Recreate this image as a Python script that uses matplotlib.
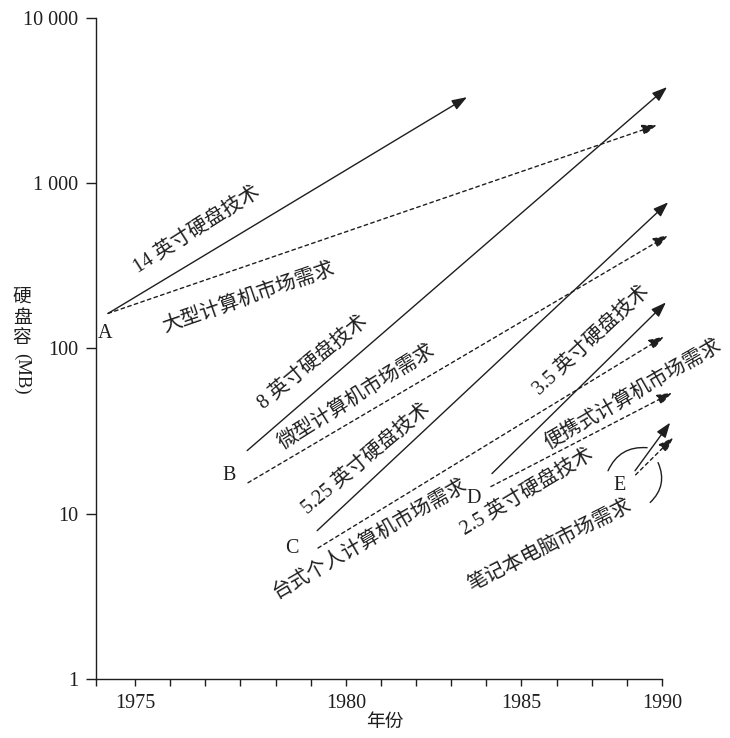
import numpy as np
import matplotlib
matplotlib.use("Agg")
import matplotlib.pyplot as plt

plt.rcParams['font.family'] = ['Liberation Serif', 'Noto Sans CJK SC']

# ---------------- data ----------------
group_letters = ["A", "B", "C", "D", "E"]
letter_year = [1974.29, 1977.23, 1978.72, 1983.65, 1988.5]
letter_mb = [123, 17.0, 6.2, 12.3, 14.8]

# technology (solid) trajectories
tech_labels = ["14 英寸硬盘技术", "8 英寸硬盘技术", "5.25 英寸硬盘技术", "3.5 英寸硬盘技术", "2.5 英寸硬盘技术"]
tech_start_year = [1974.36, 1977.66, 1979.32, 1984.16, 1989.04]
tech_start_mb = [163, 24.1, 7.9, 17.5, 18.2]
tech_end_year = [1983.45, 1990.18, 1990.22, 1990.14, 1990.29]
tech_end_mb = [3320, 3820, 767, 190, 35.6]
tech_label_year = [1976.47, 1979.22, 1980.60, 1987.51, 1985.2]
tech_label_mb = [519, 82, 21.5, 112, 13.4]
tech_label_angle = [32.5, 39.5, 40, 43, 31]

# market demand (dashed) trajectories
demand_labels = ["大型计算机市场需求", "微型计算机市场需求", "台式个人计算机市场需求", "便携式计算机市场需求", "笔记本电脑市场需求"]
demand_start_year = [1974.36, 1977.68, 1979.34, 1984.13, 1989.06]
demand_start_mb = [163, 15.4, 6.2, 14.6, 17.2]
demand_end_year = [1989.82, 1990.22, 1990.07, 1990.36, 1990.4]
demand_end_mb = [2250, 484, 118, 54, 28.9]
demand_label_year = [1977.70, 1980.32, 1980.69, 1988.97, 1986.01]
demand_label_mb = [201, 50.5, 7.05, 52.6, 6.4]
demand_label_angle = [19, 32, 30, 30, 27]

# bracket arcs near E
arc_start_year = [1988.08, 1989.86]
arc_start_mb = [18.2, 20.4]
arc_end_year = [1989.47, 1989.58]
arc_end_mb = [25.1, 11.7]

x_tick_years = [1975, 1980, 1985, 1990]
x_tick_labels = ["1975", "1980", "1985", "1990"]
y_ticks = [1, 10, 100, 1000, 10000]
y_tick_labels = ["1", "10", "100", "1 000", "10 000"]
y_title_chars = ["硬", "盘", "容"]
y_title_unit = "(MB)"
x_title = "年份"

# non-uniform year axis as printed (tick marks equally spaced)
YEAR_KNOTS = [1970, 1975, 1980, 1985, 1990, 1995]
POS_KNOTS = [-6, 0, 6, 11, 15, 19]


def fwd(x):
    return np.interp(x, YEAR_KNOTS, POS_KNOTS)


def inv(p):
    return np.interp(p, POS_KNOTS, YEAR_KNOTS)


ink = "#1e1e1e"
fs = 14.5

fig = plt.figure(figsize=(7.30, 7.38), dpi=100)
ax = fig.add_axes([96 / 730, 1 - 679 / 738, (662 - 96) / 730, (679 - 18) / 738])
ax.set_xscale('function', functions=(fwd, inv))
ax.set_yscale('log')
ax.set_xlim(inv(-1.11), 1990)
ax.set_ylim(1, 10000)

for s in ["top", "right"]:
    ax.spines[s].set_visible(False)
for s in ["left", "bottom"]:
    ax.spines[s].set_color(ink)
    ax.spines[s].set_linewidth(1.0)

ax.xaxis.set_major_locator(matplotlib.ticker.FixedLocator(x_tick_years))
ax.xaxis.set_major_formatter(matplotlib.ticker.FixedFormatter(x_tick_labels))
minor_pos = [p for p in range(1, 15) if p not in (6, 11)] + [-1.11]
ax.xaxis.set_minor_locator(matplotlib.ticker.FixedLocator(inv(np.array(minor_pos, float))))
ax.yaxis.set_major_locator(matplotlib.ticker.FixedLocator(y_ticks))
ax.yaxis.set_major_formatter(matplotlib.ticker.FixedFormatter(y_tick_labels))
ax.yaxis.set_minor_locator(matplotlib.ticker.NullLocator())
ax.tick_params(axis='x', which='both', direction='out', length=5, width=1, color=ink,
               labelsize=fs, labelcolor=ink, pad=6)
ax.tick_params(axis='y', which='major', direction='out', length=7, width=1, color=ink,
               labelsize=fs, labelcolor=ink, pad=6)

arrow_kw = dict(arrowstyle='-|>,head_length=0.7,head_width=0.25', color=ink, lw=1.0,
                shrinkA=0, shrinkB=0, mutation_scale=13)

for i in range(len(tech_labels)):
    ax.annotate('', xy=(tech_end_year[i], tech_end_mb[i]),
                xytext=(tech_start_year[i], tech_start_mb[i]),
                arrowprops=dict(**arrow_kw, linestyle='-'), annotation_clip=False)
    ax.annotate('', xy=(demand_end_year[i], demand_end_mb[i]),
                xytext=(demand_start_year[i], demand_start_mb[i]),
                arrowprops=dict(**arrow_kw, linestyle=(0, (2.6, 2.4))), annotation_clip=False)
    ax.text(tech_label_year[i], tech_label_mb[i], tech_labels[i], rotation=tech_label_angle[i],
            rotation_mode='anchor', ha='center', va='center', fontsize=fs, color=ink)
    ax.text(demand_label_year[i], demand_label_mb[i], demand_labels[i], rotation=demand_label_angle[i],
            rotation_mode='anchor', ha='center', va='center', fontsize=fs, color=ink)
    ax.text(letter_year[i], letter_mb[i], group_letters[i], ha='center', va='center',
            fontsize=fs, color=ink)

for i in range(len(arc_start_year)):
    ax.annotate('', xy=(arc_end_year[i], arc_end_mb[i]), xytext=(arc_start_year[i], arc_start_mb[i]),
                arrowprops=dict(arrowstyle='-', color=ink, lw=1.0, shrinkA=0, shrinkB=0,
                                connectionstyle='arc3,rad=-0.35'))

# axis titles (vertical CJK, upright characters)
for k, ch in enumerate(y_title_chars):
    fig.text(22 / 730, 1 - (297 + 21 * k) / 738, ch, ha='center', va='center', fontsize=13.5,
             color=ink)
fig.text(22 / 730, 1 - 374 / 738, y_title_unit, ha='center', va='center', fontsize=13.5,
         color=ink, rotation=-90)
fig.text(385 / 730, 1 - 722 / 738, x_title, ha='center', va='center', fontsize=13.5, color=ink)

fig.savefig("out.png", dpi=100)
